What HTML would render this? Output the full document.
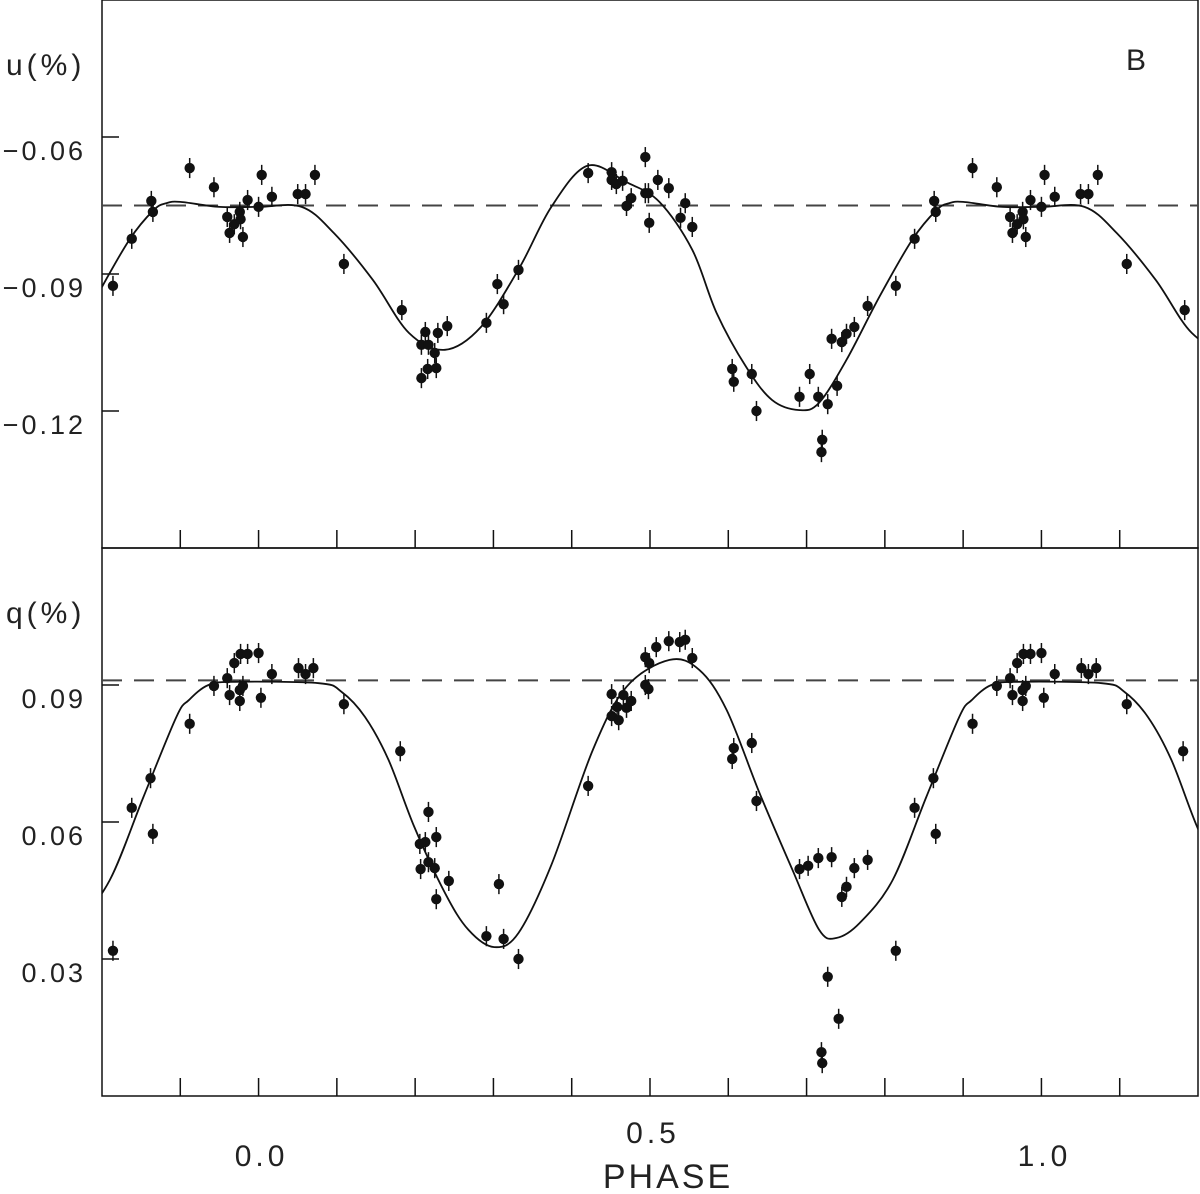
<!DOCTYPE html>
<html><head><meta charset="utf-8"><style>
body{margin:0;background:#fff}
svg text{font-family:"Liberation Sans","DejaVu Sans",sans-serif;fill:#222}
</style></head><body>
<svg id="chart" xmlns="http://www.w3.org/2000/svg" width="1200" height="1189" viewBox="0 0 1200 1189">
<rect x="0" y="0" width="1200" height="1189" fill="#fff"/>
</svg>
<script>
// ---- data (one period, phase -0.1..0.9, replicated) ----
const uPhase=[-0.088,-0.057,-0.040,-0.037,-0.031,-0.024,-0.023,-0.020,-0.014,0.000,0.004,0.017,0.050,0.060,0.072,0.109,0.183,0.208,0.213,0.217,0.225,0.229,0.241,0.208,0.216,0.227,0.291,0.305,0.313,0.332,0.421,0.451,0.451,0.457,0.465,0.470,0.476,0.494,0.494,0.498,0.499,0.510,0.524,0.545,0.539,0.554,0.605,0.607,0.630,0.636,0.691,0.704,0.715,0.727,0.720,0.719,0.739,0.732,0.745,0.751,0.761,0.778,0.814,0.838,0.863,0.865];
const uValue=[-0.0668,-0.0710,-0.0775,-0.0810,-0.0791,-0.0764,-0.0780,-0.0819,-0.0738,-0.0753,-0.0683,-0.0731,-0.0725,-0.0725,-0.0683,-0.0878,-0.0979,-0.1055,-0.1027,-0.1055,-0.1073,-0.1029,-0.1014,-0.1128,-0.1108,-0.1106,-0.1007,-0.0922,-0.0966,-0.0891,-0.0679,-0.0677,-0.0694,-0.0703,-0.0696,-0.0751,-0.0734,-0.0644,-0.0723,-0.0723,-0.0788,-0.0694,-0.0712,-0.0745,-0.0777,-0.0797,-0.1108,-0.1136,-0.1119,-0.1200,-0.1169,-0.1119,-0.1169,-0.1185,-0.1263,-0.1290,-0.1145,-0.1042,-0.1049,-0.1031,-0.1016,-0.0970,-0.0926,-0.0823,-0.0740,-0.0764];
const uCurvePhase=[-0.1,-0.05,0.0,0.055,0.096,0.146,0.192,0.238,0.284,0.333,0.374,0.420,0.470,0.512,0.554,0.585,0.623,0.656,0.691,0.716,0.751,0.793,0.835,0.866,0.882];
const uCurveValue=[-0.0742,-0.0753,-0.0753,-0.0753,-0.0810,-0.0913,-0.1029,-0.1066,-0.1016,-0.0887,-0.0753,-0.0663,-0.0699,-0.0742,-0.0847,-0.0985,-0.1104,-0.1176,-0.1198,-0.1182,-0.1088,-0.0950,-0.0825,-0.0760,-0.0745];
const uMean=-0.075;
const qPhase=[-0.088,-0.057,-0.040,-0.037,-0.031,-0.024,-0.020,-0.024,-0.023,-0.014,0.000,0.003,0.017,0.051,0.060,0.070,0.109,0.181,0.217,0.206,0.213,0.227,0.217,0.207,0.225,0.227,0.243,0.291,0.307,0.313,0.332,0.421,0.451,0.451,0.458,0.466,0.460,0.470,0.476,0.494,0.499,0.494,0.498,0.508,0.524,0.538,0.545,0.554,0.607,0.605,0.630,0.636,0.691,0.702,0.715,0.732,0.745,0.751,0.761,0.778,0.727,0.741,0.719,0.720,0.814,0.838,0.862,0.865];
const qValue=[0.0815,0.0898,0.0915,0.0878,0.0948,0.0889,0.0898,0.0865,0.0968,0.0968,0.0970,0.0872,0.0924,0.0937,0.0924,0.0937,0.0858,0.0755,0.0622,0.0552,0.0556,0.0567,0.0512,0.0497,0.0499,0.0431,0.0471,0.0350,0.0464,0.0344,0.0300,0.0679,0.0880,0.0832,0.0852,0.0878,0.0823,0.0850,0.0865,0.0961,0.0948,0.0900,0.0891,0.0983,0.0996,0.0994,0.0999,0.0959,0.0762,0.0738,0.0773,0.0646,0.0497,0.0504,0.0521,0.0523,0.0436,0.0458,0.0499,0.0517,0.0261,0.0169,0.0096,0.0072,0.0318,0.0631,0.0696,0.0574];
const qCurvePhase=[-0.089,-0.064,-0.031,0.077,0.106,0.136,0.166,0.199,0.238,0.268,0.301,0.332,0.374,0.427,0.470,0.525,0.563,0.598,0.640,0.682,0.716,0.738,0.768,0.810,0.853,0.895];
const qCurveValue=[0.0867,0.0900,0.0907,0.0904,0.0885,0.0830,0.0736,0.0589,0.0445,0.0364,0.0326,0.0357,0.0506,0.0758,0.0896,0.0955,0.0933,0.0845,0.0663,0.0495,0.0364,0.0346,0.0379,0.0473,0.0655,0.0830];
const qMean=0.091;
const xTicks=[-0.1,0.0,0.1,0.2,0.3,0.4,0.5,0.6,0.7,0.8,0.9,1.0,1.1];
const xLabels=["0.0","0.5","1.0"];
const uTicks=[-0.06,-0.09,-0.12];
const uTickLabels=["-0.06","-0.09","-0.12"];
const qTicks=[0.09,0.06,0.03];
const qTickLabels=["0.09","0.06","0.03"];
const errBar=0.0022;

const NS="http://www.w3.org/2000/svg";
const svg=document.getElementById('chart');
const L=102,R=1198;
const xs=p=>L+(p+0.2)/1.4*(R-L);
function mk(tag,attrs,parent){const e=document.createElementNS(NS,tag);for(const k in attrs)e.setAttribute(k,attrs[k]);(parent||svg).appendChild(e);return e;}

function panel(name,top,bot,vmax,vmin,ph,val,cph,cval,mean,ticks,tickLabels,yLabel,extra){
  const ys=v=>top+(vmax-v)/(vmax-vmin)*(bot-top);
  const g=mk('g',{});
  
  
  const clip=mk('clipPath',{id:name+'clip'},g);
  mk('rect',{x:L,y:top,width:R-L,height:bot-top},clip);
  const frame=mk('rect',{x:L,y:top,width:R-L,height:bot-top,fill:'none',stroke:'#111','stroke-width':1.5},g);
  
  
  xTicks.forEach(t=>{const l=mk('line',{x1:xs(t),x2:xs(t),y1:bot-18,y2:bot,stroke:'#111','stroke-width':1.5},g);
    
    });
  ticks.forEach((t,i)=>{const l=mk('line',{x1:L,x2:L+17,y1:ys(t),y2:ys(t),stroke:'#111','stroke-width':1.5},g);
    
    
    const tx=mk('text',{x:86,y:ys(t)+23,'font-size':27,'text-anchor':'end','letter-spacing':3},g);
    tx.textContent=tickLabels[i].replace('-','\u2212');
    
    });
  const yl=mk('text',{x:6,y:top+75,'font-size':30,'letter-spacing':4},g);
  yl.textContent=yLabel;
  
  
  const cg=mk('g',{'clip-path':'url(#'+name+'clip)'},g);
  const ml=mk('line',{x1:L,x2:R,y1:ys(mean),y2:ys(mean),stroke:'#444','stroke-width':2,'stroke-dasharray':'20,12'},cg);
  
  
  // curve replicated
  let pts=[];
  for(let k=-1;k<=1;k++)cph.forEach((p,i)=>{const q=p+k;if(q>=-0.35&&q<=1.35)pts.push([xs(q),ys(cval[i])]);});
  pts.sort((a,b)=>a[0]-b[0]);
  let d='M'+pts[0][0]+','+pts[0][1];
  for(let i=0;i<pts.length-1;i++){const p0=pts[Math.max(0,i-1)],p1=pts[i],p2=pts[i+1],p3=pts[Math.min(pts.length-1,i+2)];
    d+=' C'+(p1[0]+(p2[0]-p0[0])/6)+','+(p1[1]+(p2[1]-p0[1])/6)+' '+(p2[0]-(p3[0]-p1[0])/6)+','+(p2[1]-(p3[1]-p1[1])/6)+' '+p2[0]+','+p2[1];}
  const cv=mk('path',{d:d,fill:'none',stroke:'#111','stroke-width':1.8},cg);
  
  
  for(let k=-1;k<=1;k++)ph.forEach((p,i)=>{const q=p+k;if(q<-0.2||q>1.2)return;
    const x=xs(q),y=ys(val[i]);
    const e=mk('line',{x1:x,x2:x,y1:ys(val[i]+errBar),y2:ys(val[i]-errBar),stroke:'#111','stroke-width':1.5},cg);
    
    
    const c=mk('circle',{cx:x,cy:y,r:5.2,fill:'#111'},cg);
    
    });
  if(extra){const b=mk('text',{x:1126,y:70,'font-size':30},g);b.textContent=extra;
    
    }
}
panel('u',0,548,-0.03,-0.15,uPhase,uValue,uCurvePhase,uCurveValue,uMean,uTicks,uTickLabels,'u(%)','B');
panel('q',548,1096,0.12,0.0,qPhase,qValue,qCurvePhase,qCurveValue,qMean,qTicks,qTickLabels,'q(%)',null);
[0,0.5,1.0].forEach((p,i)=>{const t=mk('text',{x:xs(p)+3,y:p===0.5?1143:1166,'font-size':30,'text-anchor':'middle','letter-spacing':4});
  t.textContent=xLabels[i];
  
  });
const xt=mk('text',{x:668,y:1188,'font-size':34,'text-anchor':'middle','letter-spacing':3});
xt.textContent='PHASE';


</script>
</body></html>
